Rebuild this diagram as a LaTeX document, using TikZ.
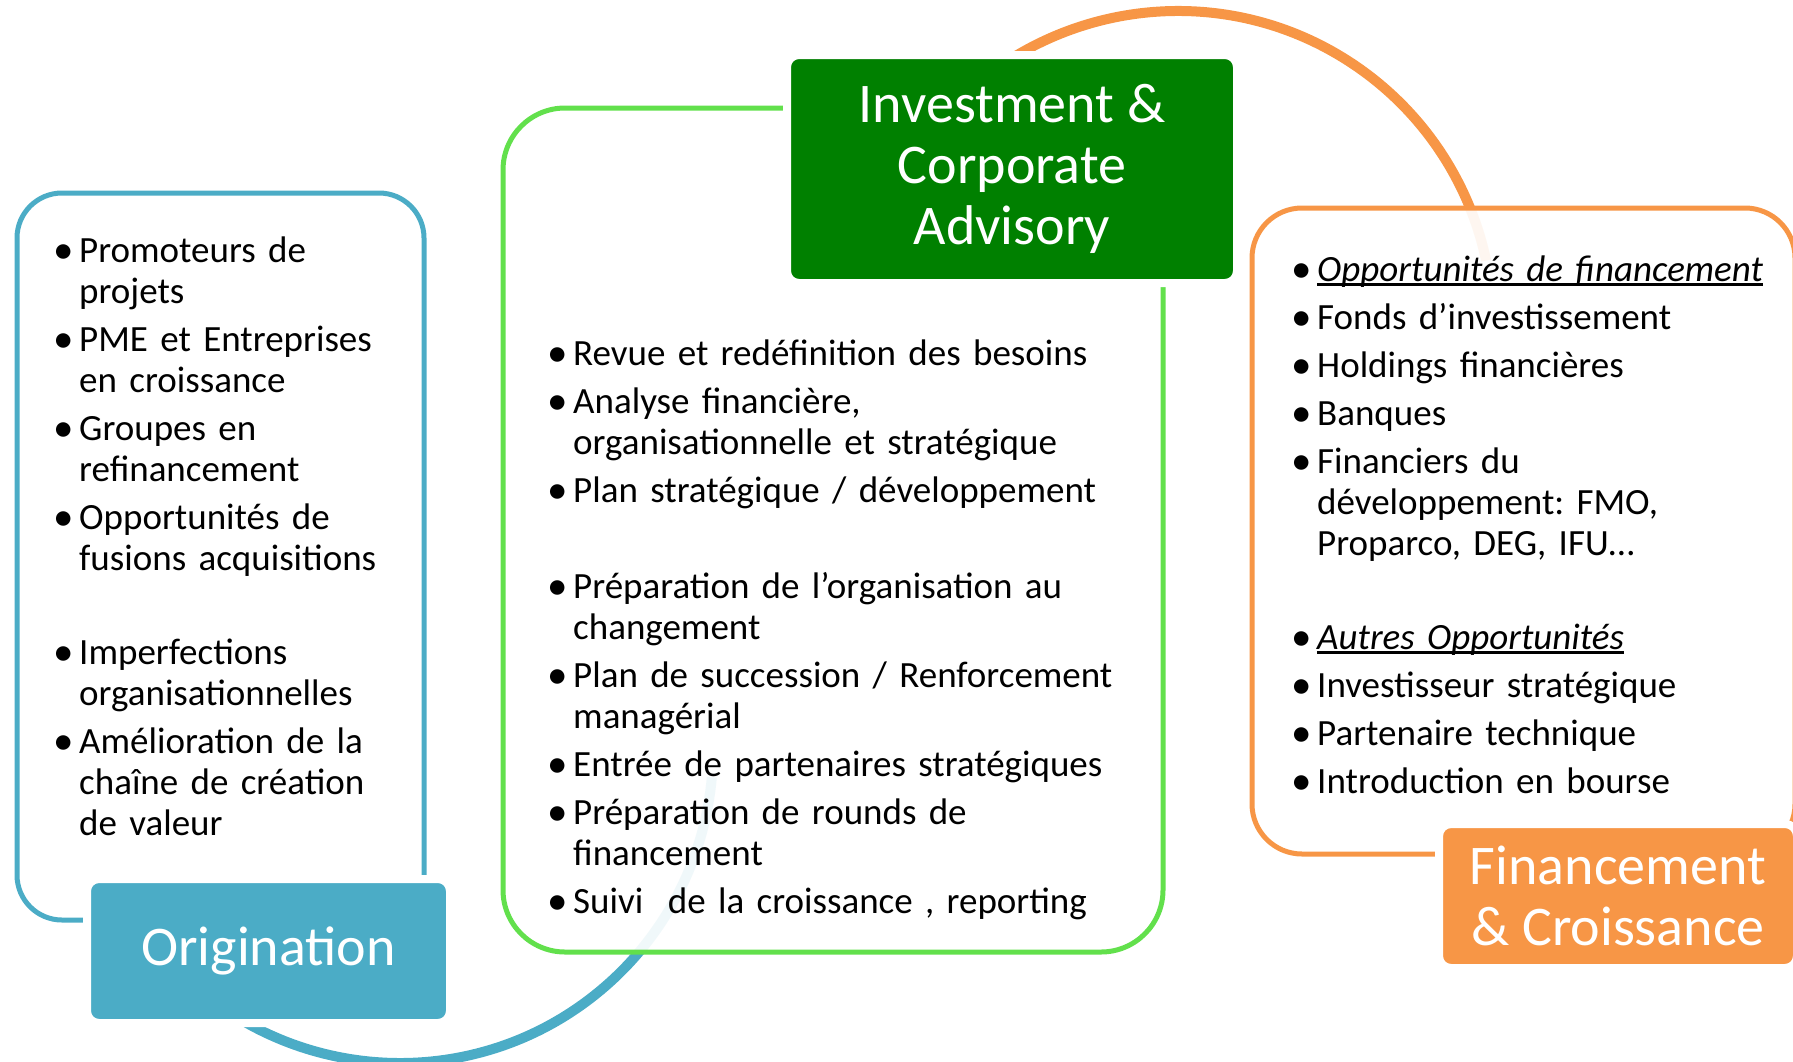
\documentclass[tikz,border=0pt]{standalone}
\usepackage{fontspec}
\setmainfont{Carlito}
\usepackage{tikz}

\definecolor{origblue}{HTML}{4BACC6}
\definecolor{advgreen}{HTML}{008000}
\definecolor{framegreen}{RGB}{98,224,76}
\definecolor{finorange}{HTML}{F79646}

\newcommand\itm[1]{\par\vskip7pt\hangindent=23pt\hangafter=1\noindent\strut
    \rlap{\hspace*{-3pt}\raisebox{-1pt}{\fontsize{41}{41}\selectfont\textbullet}}\hspace{23pt}#1}
\newcommand\ulit[1]{\setbox0\hbox{\itshape #1}\rlap{\rule[-5pt]{\wd0}{3pt}}\box0}

\tikzset{
    boxframe/.style = {draw, line width = 5pt, fill = white, fill opacity = 0.92, inner sep = 0pt},
    tagbox/.style = {draw = white, line width = 8pt, inner sep = 0pt, rounded corners = 12pt,
        text = white, align = center, font = \fontsize{56}{61}\selectfont},
    listtext/.style = {anchor = north west, inner sep = 0pt, text width = 600pt,
        font = \fontsize{37}{41}\selectfont\frenchspacing},
    bigarc/.style = {line width = 10pt}
}

\begin{document}
\begin{tikzpicture}[x=1pt, y=-1pt]
    \useasboundingbox (0,0) rectangle (1793,1061);
    % arcs behind the boxes
    \coordinate (blueC) at (400,750);
    \coordinate (orangeC) at (1178,326);
    \draw [bigarc, origblue] ([shift={(140:313)}]blueC) arc [start angle = 140, end angle = 5, radius = 313];
    \draw [bigarc, finorange] ([shift={(-145:315)}]orangeC) arc [start angle = -145, end angle = -12, radius = 315];

    \node (origFrame) at (220.5,556.5) [boxframe, draw = origblue, rounded corners = 45pt,
        minimum width = 407pt, minimum height = 727pt] {};
    \node (advFrame) at (833,530) [boxframe, draw = framegreen, rounded corners = 62pt,
        minimum width = 660pt, minimum height = 844pt] {};
    \node (finFrame) at (1523.5,531) [boxframe, draw = finorange, rounded corners = 50pt,
        minimum width = 543pt, minimum height = 646pt] {};

    \node (orig) at (268.5,951) [tagbox, fill = origblue, minimum width = 363pt, minimum height = 144pt] {Origination};
    \node (adv) at (1012,169) [tagbox, fill = advgreen, minimum width = 450pt, minimum height = 228pt] {Investment \&\\Corporate\\Advisory};
    \node (fin) at (1618,896) [tagbox, fill = finorange, minimum width = 358pt, minimum height = 144pt] {Financement\\\& Croissance};

    \node (origList) at (56,214) [listtext] {%
        \itm{Promoteurs de\newline projets}
        \itm{PME et Entreprises\newline en croissance}
        \itm{Groupes en\newline refinancement}
        \itm{Opportunités de\newline fusions acquisitions}
        \par\vskip46pt
        \itm{Imperfections\newline organisationnelles}
        \itm{Amélioration de la\newline chaîne de création\newline de valeur}\par};
    \node (advList) at (550,317) [listtext] {%
        \itm{Revue et redéfinition des besoins}
        \itm{Analyse financière,\newline organisationnelle et stratégique}
        \itm{Plan stratégique / développement}
        \par\vskip48pt
        \itm{Préparation de l’organisation au\newline changement}
        \itm{Plan de succession / Renforcement\newline managérial}
        \itm{Entrée de partenaires stratégiques}
        \itm{Préparation de rounds de\newline financement}
        \itm{Suivi~ de la croissance , reporting}\par};
    \node (finList) at (1294,233) [listtext] {%
        \itm{\ulit{Opportunités de financement}}
        \itm{Fonds d’investissement}
        \itm{Holdings financières}
        \itm{Banques}
        \itm{Financiers du\newline développement: FMO,\newline Proparco, DEG, IFU…}
        \par\vskip46pt
        \itm{\ulit{Autres Opportunités}}
        \itm{Investisseur stratégique}
        \itm{Partenaire technique}
        \itm{Introduction en bourse}\par};
\end{tikzpicture}
\end{document}
